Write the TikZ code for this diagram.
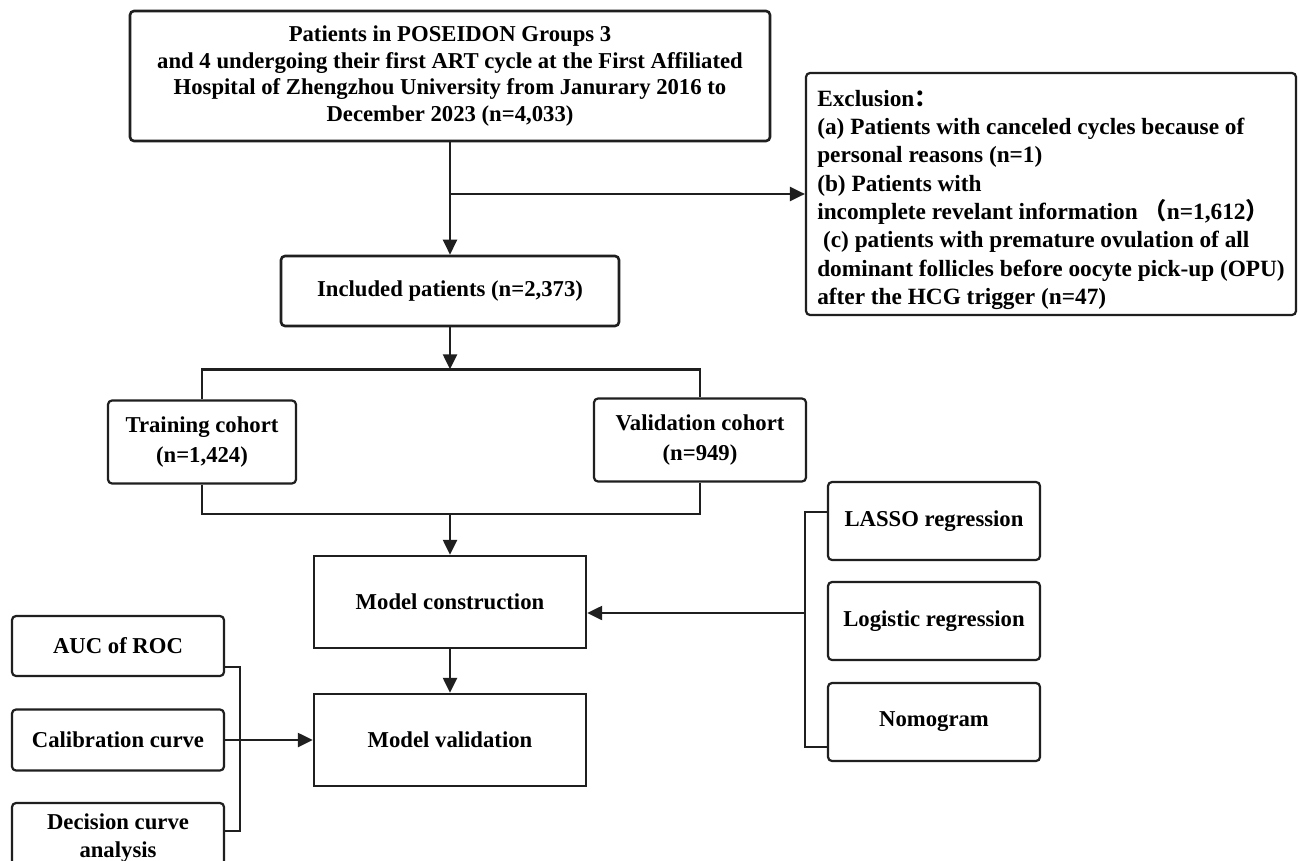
\documentclass[tikz,border=0pt]{standalone}
\usepackage{fontspec}
\setmainfont{Liberation Serif}
\newfontfamily\cjk{Noto Sans CJK SC}
\usetikzlibrary{arrows.meta,calc}
\begin{document}
\begin{tikzpicture}[x=1pt,y=-1pt,
  box/.style={draw=black!88, line width=2.6pt, rounded corners=4pt, fill=white, align=center,
     inner sep=0pt, font=\bfseries\fontsize{22.7}{27}\selectfont},
  sqbox/.style={box, rounded corners=0pt, line width=2.4pt},
  thinbox/.style={box, line width=2.2pt},
  conn/.style={draw=black!88, line width=2.4pt},
  arr/.style={conn, -{Triangle[length=15pt,width=14pt]}},
]
\useasboundingbox (0,0) rectangle (1300,861);
\clip (0,0) rectangle (1300,861);
\fill[white] (0,0) rectangle (1300,861);

\node[box, minimum width=640pt, minimum height=130pt, font=\bfseries\fontsize{22.7}{26.7}\selectfont] (top) at (450,76)
  {Patients in POSEIDON Groups 3\\ and 4 undergoing their first ART cycle at the First Affiliated\\ Hospital of Zhengzhou University from Janurary 2016 to\\ December 2023 (n=4,033)};

\node[thinbox, minimum width=490pt, minimum height=242pt, align=left,
  font=\bfseries\fontsize{23.3}{28.3}\selectfont] (excl) at (1051,194)
  {\rule{0pt}{28pt}Exclusion{\cjk ：}\\
   (a) Patients with canceled cycles because of\\
   personal reasons (n=1)\\
   (b) Patients with\\
   incomplete revelant information {\cjk （}n=1,612{\cjk ）}\\
   \hspace*{0.25em}(c) patients with premature ovulation of all\\
   dominant follicles before oocyte pick-up (OPU)\\
   after the HCG trigger (n=47)};

\node[box, minimum width=338pt, minimum height=70pt] (inc) at (450,291) {Included patients (n=2,373)};

\node[thinbox, minimum width=188pt, minimum height=83pt, font=\bfseries\fontsize{22.7}{30}\selectfont] (train) at (202,442) {Training cohort\\ (n=1,424)};
\node[thinbox, minimum width=212pt, minimum height=83pt, font=\bfseries\fontsize{22.7}{30}\selectfont] (val) at (700,440) {Validation cohort\\ (n=949)};

\node[sqbox, minimum width=272pt, minimum height=92pt] (mc) at (450,602) {Model construction};
\node[sqbox, minimum width=272pt, minimum height=92pt] (mv) at (450,740) {Model validation};

\node[thinbox, minimum width=212pt, minimum height=78pt] (lasso) at (934,521) {LASSO regression};
\node[thinbox, minimum width=212pt, minimum height=78pt] (logit) at (934,621) {Logistic regression};
\node[thinbox, minimum width=212pt, minimum height=78pt] (nomo) at (934,722) {Nomogram};

\node[thinbox, minimum width=212pt, minimum height=60pt] (auc) at (118,646) {AUC of ROC};
\node[thinbox, minimum width=212pt, minimum height=61pt] (calib) at (118,740) {Calibration curve};
\node[thinbox, minimum width=212pt, minimum height=70pt, font=\bfseries\fontsize{22.7}{28}\selectfont] (dca) at (118,838) {Decision curve\\ analysis};

% top -> included, branch to exclusion
\coordinate (br) at (top.south |- excl.west);
\draw[arr] (top.south) -- (inc.north);
\draw[arr] (br) -- (excl.west);

% split
\coordinate (split) at ($(inc.south)+(0,42)$);
\draw[arr] (inc.south) -- (split);
\draw[conn] (train.north) |- (split) -| (val.north);

% join
\coordinate (join) at (450,514);
\draw[conn] (train.south) |- (join) -| (val.south);
\draw[arr] (join) -- (mc.north);
\draw[arr] (mc.south) -- (mv.north);

% right bracket
\coordinate (rt) at (805,512);
\coordinate (rm) at (805,613);
\coordinate (rb) at (805,747);
\draw[conn] (lasso.west |- rt) -- (rt) -- (rb) -- (nomo.west |- rb);
\draw[arr] (rm) -- (mc.east |- rm);

% left bracket
\coordinate (lt) at (240,667);
\coordinate (lb) at (240,831);
\draw[conn] (auc.east |- lt) -- (lt) -- (lb) -- (dca.east |- lb);
\draw[arr] (calib.east) -- (mv.west);
\end{tikzpicture}
\end{document}
